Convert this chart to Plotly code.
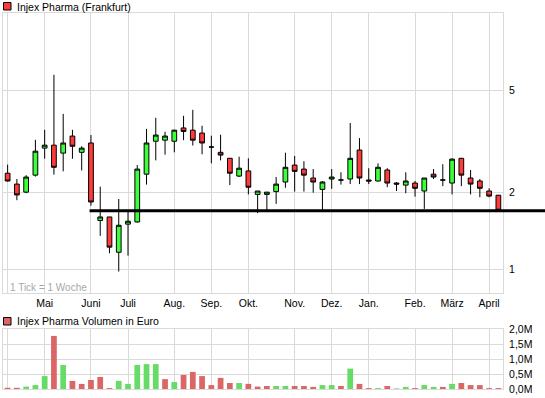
import plotly.graph_objects as go
import math

# ---------------- data ----------------
weeks = list(range(54))
opens = [2.37, 2.15, 2.00, 2.33, 2.97, 3.05, 2.84, 3.31, 2.86, 3.11,
         1.55, 1.60, 1.165, 1.50, 1.53, 2.35, 3.16, 3.19, 3.16, 3.56,
         3.49, 3.40, 3.00, 2.86, 2.71, 2.31, 2.42, 1.96, 1.96, 2.01,
         2.19, 2.55, 2.46, 2.27, 2.05, 2.25, 2.23, 2.25, 2.92, 2.23,
         2.21, 2.44, 2.17, 2.13, 2.17, 2.02, 2.35, 2.23, 2.17, 2.71,
         2.27, 2.21, 2.02, 1.945]
highs = [2.56, 2.25, 2.33, 3.20, 3.50, 5.74, 4.04, 3.50, 3.02, 3.34,
         2.10, 1.60, 1.88, 1.68, 2.55, 3.53, 3.90, 3.44, 3.50, 3.97,
         4.19, 3.63, 3.32, 3.35, 2.72, 2.75, 2.71, 2.02, 2.00, 2.29,
         2.85, 2.77, 2.64, 2.46, 2.21, 2.46, 2.39, 3.72, 3.25, 2.48,
         2.59, 2.48, 2.19, 2.39, 2.21, 2.27, 2.46, 2.57, 2.71, 2.72,
         2.44, 2.25, 2.07, 1.95]
lows = [2.20, 1.86, 1.98, 2.30, 2.70, 2.34, 2.41, 2.70, 2.43, 1.77,
        1.35, 1.155, 0.98, 1.13, 1.52, 2.14, 2.66, 2.80, 2.86, 3.19,
        3.04, 2.81, 2.59, 2.66, 2.13, 2.29, 1.96, 1.655, 1.70, 1.80,
        2.08, 2.01, 2.01, 1.99, 1.70, 2.06, 2.14, 2.15, 2.15, 2.15,
        2.20, 2.09, 2.02, 1.98, 1.92, 1.72, 2.25, 2.11, 1.96, 2.11,
        1.96, 1.91, 1.91, 1.70]
closes = [2.21, 1.95, 2.29, 2.89, 3.05, 2.50, 3.11, 3.02, 2.97, 1.83,
          1.60, 1.22, 1.485, 1.54, 2.46, 3.11, 3.34, 3.31, 3.49, 3.45,
          3.19, 3.11, 3.00, 2.79, 2.37, 2.48, 2.09, 2.02, 2.00, 2.15,
          2.50, 2.41, 2.33, 2.19, 2.19, 2.29, 2.23, 2.71, 2.27, 2.21,
          2.50, 2.17, 2.15, 2.21, 2.07, 2.27, 2.29, 2.23, 2.69, 2.33,
          2.15, 2.07, 1.93, 1.70]
volumes_m = [0.04, 0.04, 0.08, 0.13, 0.43, 1.77, 0.80, 0.27, 0.17, 0.30,
             0.40, 0.03, 0.27, 0.17, 0.80, 0.83, 0.83, 0.33, 0.23, 0.47,
             0.57, 0.43, 0.13, 0.37, 0.20, 0.20, 0.17, 0.08, 0.10, 0.10,
             0.10, 0.10, 0.10, 0.07, 0.13, 0.13, 0.10, 0.68, 0.17, 0.03,
             0.03, 0.10, 0.03, 0.07, 0.03, 0.13, 0.07, 0.07, 0.17, 0.20,
             0.13, 0.13, 0.03, 0.03]
vol_dir = ["d", "d", "u", "u", "u", "d", "u", "d", "d", "d",
           "d", "d", "u", "u", "u", "u", "u", "d", "u", "d",
           "d", "d", "d", "d", "d", "u", "d", "d", "d", "u",
           "u", "d", "d", "d", "u", "u", "d", "u", "d", "d",
           "u", "d", "n", "u", "d", "u", "u", "d", "u", "d",
           "d", "d", "d", "d"]
month_ticks = [0, 4, 9, 13, 18, 22, 26, 31, 35, 39, 44, 48, 52]
month_labels = ["", "Mai", "Juni", "Juli", "Aug.", "Sep.", "Okt.", "Nov.",
                "Dez.", "Jan.", "Feb.", "März", "April"]
price_ticks = [1, 2, 5]
price_tick_labels = ["1", "2", "5"]
vol_ticks = [0, 0.5e6, 1.0e6, 1.5e6, 2.0e6]
vol_tick_labels = ["0,0M", "0,5M", "1,0M", "1,5M", "2,0M"]
support_level = 1.69
support_start = 8.85

# ---------------- styling ----------------
FONT = "Liberation Sans, Arial, sans-serif"
GRID = "#dadada"
RED = "#ff3a3a"
GREEN = "#3aff3a"
VRED = "#dc6666"
VGREEN = "#66dc66"
VGREY = "#c8c8c8"

volumes = [v * 1e6 for v in volumes_m]
vcolor_map = {"u": VGREEN, "d": VRED, "n": VGREY}
vcolors = [vcolor_map[d] for d in vol_dir]

fig = go.Figure()
fig.add_trace(go.Candlestick(
    x=weeks, open=opens, high=highs, low=lows, close=closes,
    increasing=dict(fillcolor=GREEN, line=dict(color="black", width=1)),
    decreasing=dict(fillcolor=RED, line=dict(color="black", width=1)),
    whiskerwidth=0, xaxis="x", yaxis="y", showlegend=False, hoverinfo="skip"))
fig.add_trace(go.Bar(
    x=weeks, y=volumes, marker=dict(color=vcolors, line=dict(width=0)),
    width=0.62, xaxis="x2", yaxis="y2", showlegend=False, hoverinfo="skip"))

# geometry (pixels)
W, H = 545, 398
ML, MR, MT, MB = 3, 42, 13, 9
PW, PH = W - ML - MR, H - MT - MB


def px(xp):
    return (xp - ML) / PW


def py(yp):
    return (H - MB - yp) / PH


xrange_ = [-0.5, 53.5]
common_x = dict(range=xrange_, tickvals=month_ticks, showgrid=True,
                gridcolor=GRID, gridwidth=1, showline=True, linecolor=GRID,
                linewidth=1, mirror=True, zeroline=False, ticks="",
                fixedrange=True)

fig.update_layout(
    width=W, height=H, autosize=False,
    margin=dict(l=ML, r=MR, t=MT, b=MB, pad=0),
    paper_bgcolor="white", plot_bgcolor="white",
    font=dict(family=FONT, size=10, color="black"),
    boxgap=0.27,
    xaxis=dict(domain=[0, 1], anchor="y", ticktext=month_labels,
               tickfont=dict(size=10.5), rangeslider=dict(visible=False),
               **common_x),
    yaxis=dict(domain=[py(293), 1], type="log",
               range=[math.log10(0.808), 1.0], side="right",
               tickvals=price_ticks, ticktext=price_tick_labels,
               showgrid=True, gridcolor=GRID, showline=True, linecolor=GRID,
               mirror=True, zeroline=False, ticks="outside", ticklen=3,
               tickcolor="rgba(0,0,0,0)", tickfont=dict(size=10.5),
               fixedrange=True),
    xaxis2=dict(domain=[0, 1], anchor="y2", showticklabels=False, **common_x),
    yaxis2=dict(domain=[0, py(329)], range=[0, 2.0e6], side="right",
                tickvals=vol_ticks, ticktext=vol_tick_labels,
                showgrid=True, gridcolor=GRID, showline=True, linecolor=GRID,
                mirror=True, zeroline=False, ticks="outside", ticklen=3,
                tickcolor="rgba(0,0,0,0)", tickfont=dict(size=10.5),
                fixedrange=True),
)

fig.add_shape(type="line", xref="x", yref="y", x0=support_start,
              x1=xrange_[1], y0=support_level, y1=support_level,
              line=dict(color="black", width=3), layer="above")
fig.add_shape(type="line", xref="paper", yref="y", x0=1, x1=1.2,
              y0=support_level, y1=support_level,
              line=dict(color="black", width=3), layer="above")

# title icons
fig.add_shape(type="rect", xref="paper", yref="paper",
              x0=px(3.5), x1=px(11), y0=py(10), y1=py(2.5),
              fillcolor=RED, line=dict(color="black", width=1))
fig.add_shape(type="rect", xref="paper", yref="paper",
              x0=px(3.5), x1=px(11), y0=py(325), y1=py(317.5),
              fillcolor=VRED, line=dict(color="black", width=1))

fig.add_annotation(x=px(15), y=py(6.5), xref="paper", yref="paper",
                   text="Injex Pharma (Frankfurt)", showarrow=False,
                   xanchor="left", yanchor="middle",
                   font=dict(size=10.5, color="black"))
fig.add_annotation(x=px(15), y=py(321), xref="paper", yref="paper",
                   text="Injex Pharma Volumen in Euro", showarrow=False,
                   xanchor="left", yanchor="middle",
                   font=dict(size=10.5, color="black"))
fig.add_annotation(x=px(8), y=py(287.5), xref="paper", yref="paper",
                   text="1 Tick = 1 Woche", showarrow=False,
                   xanchor="left", yanchor="middle",
                   font=dict(size=10, color="#a8a8a8"))

fig.write_html("out.html",
               config={"displayModeBar": False, "staticPlot": True},
               post_script="document.body.style.margin='0';"
                           "document.body.style.overflow='hidden';")
